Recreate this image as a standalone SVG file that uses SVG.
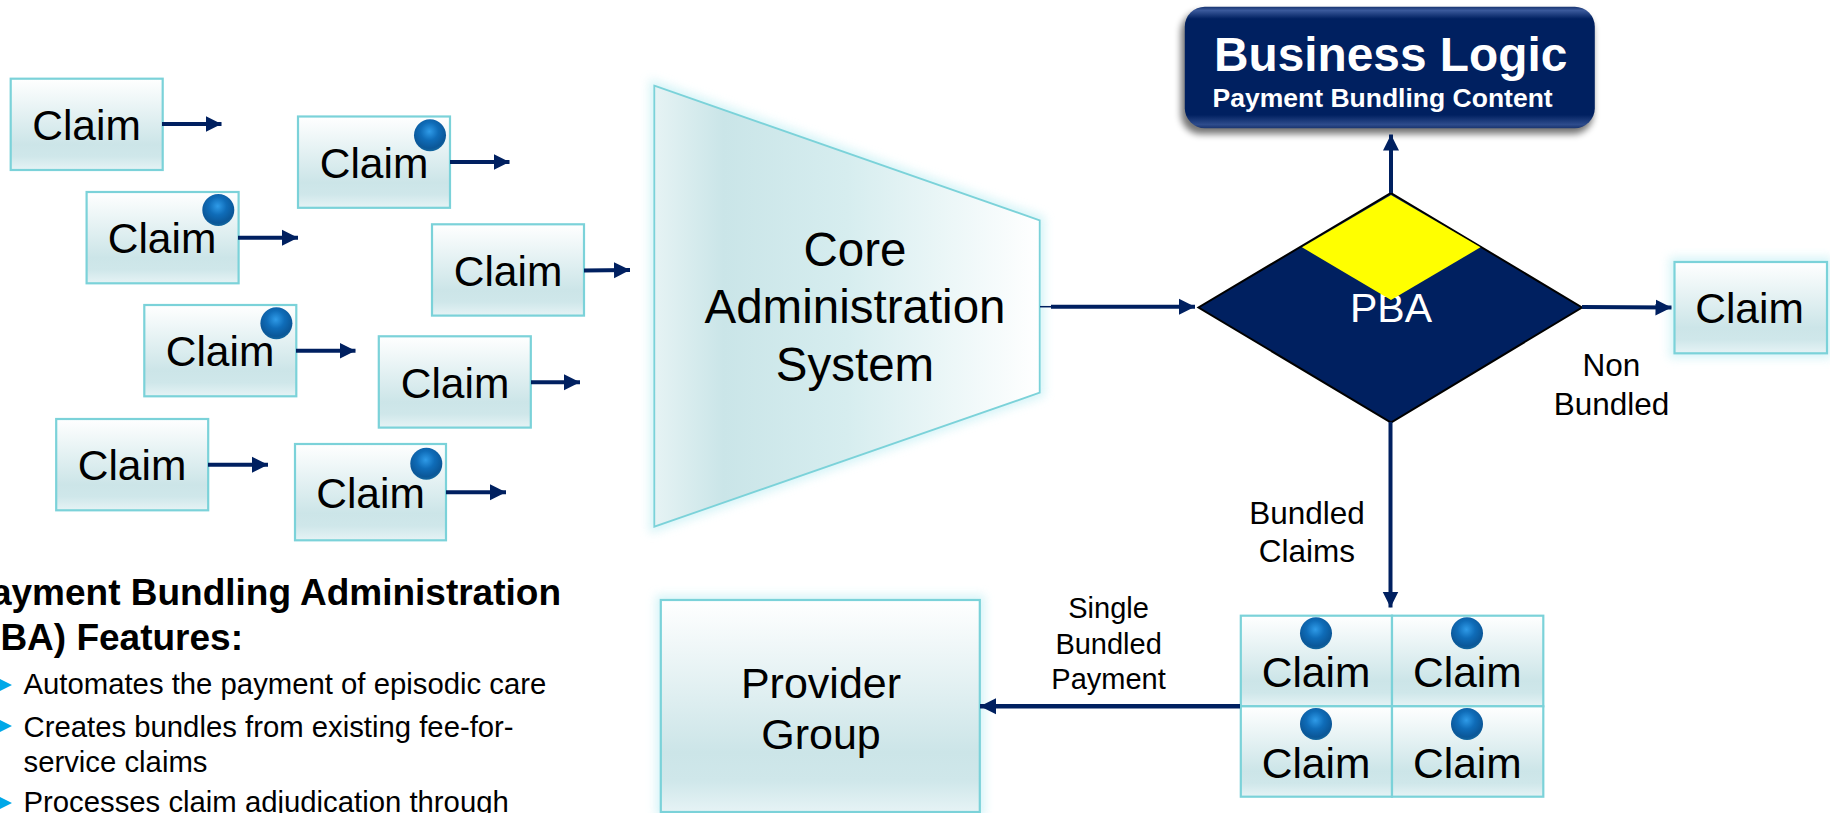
<svg xmlns="http://www.w3.org/2000/svg" width="1830" height="813" viewBox="0 0 1830 813">
<style>
text{font-family:"Liberation Sans",Arial,sans-serif;fill:#000}
.m{text-anchor:middle}
.box{fill:url(#boxG);stroke:#7bd2d9;stroke-width:2.2}
.cl{font-size:42.5px;text-anchor:middle}
.lb{font-size:31.5px;text-anchor:middle}
.lb2{font-size:29px;text-anchor:middle}
.ft{font-size:29.3px}
.hd{font-size:37px;font-weight:700;text-anchor:end}
.con{stroke:#002060;stroke-width:4;fill:none;marker-end:url(#ah)}
.glow{fill:#c9f1f5;stroke:#c9f1f5;stroke-width:10;filter:url(#bl);opacity:.75}
</style>
<defs>
<linearGradient id="boxG" x1="0" y1="0" x2="0" y2="1">
<stop offset="0" stop-color="#ffffff"/><stop offset=".72" stop-color="#cce5e8"/><stop offset=".85" stop-color="#cfe7ea"/><stop offset="1" stop-color="#e6f3f5"/>
</linearGradient>
<linearGradient id="trapG" x1="0" y1="0" x2="1" y2="0">
<stop offset="0" stop-color="#e6f3f4"/><stop offset=".18" stop-color="#cae5e8"/><stop offset=".5" stop-color="#d6edef"/><stop offset="1" stop-color="#ffffff"/>
</linearGradient>
<radialGradient id="ballG" cx=".48" cy=".38" r=".62">
<stop offset="0" stop-color="#2f9be8"/><stop offset=".45" stop-color="#0f6cb8"/><stop offset=".85" stop-color="#0b5798"/><stop offset="1" stop-color="#13689f"/>
</radialGradient>
<linearGradient id="blG" x1="0" y1="0" x2="0" y2="1">
<stop offset="0" stop-color="#16336f"/><stop offset=".03" stop-color="#3b5a9c"/><stop offset=".1" stop-color="#002060"/><stop offset=".89" stop-color="#002060"/><stop offset=".97" stop-color="#2e4c8c"/><stop offset="1" stop-color="#1a3570"/>
</linearGradient>
<filter id="bl" x="-20%" y="-20%" width="140%" height="140%"><feGaussianBlur stdDeviation="5"/></filter>
<filter id="sh" x="-10%" y="-20%" width="120%" height="150%"><feGaussianBlur stdDeviation="3.500"/></filter>
<marker id="ah" markerUnits="userSpaceOnUse" markerWidth="17" markerHeight="18" refX="16" refY="9" orient="auto"><path d="M0 1 L16 9 L0 17Z" fill="#002060"/></marker>
<circle id="ball" r="16" fill="url(#ballG)"/>
<g id="chip"><rect width="152" height="91.3" class="box"/></g>
</defs>
<g id="claim1"><use href="#chip" x="10.700" y="78.700"/><text class="cl" x="86.500" y="139.500">Claim</text></g>
<g id="claim2"><use href="#chip" x="298" y="116.500"/><use href="#ball" x="430" y="135.300"/><text class="cl" x="374" y="177.500">Claim</text></g>
<g id="claim3"><use href="#chip" x="86.600" y="192"/><use href="#ball" x="218.300" y="210"/><text class="cl" x="162" y="253">Claim</text></g>
<g id="claim4"><use href="#chip" x="432" y="224.300"/><text class="cl" x="508" y="285.500">Claim</text></g>
<g id="claim5"><use href="#chip" x="144.300" y="305"/><use href="#ball" x="276.400" y="323.300"/><text class="cl" x="220" y="366">Claim</text></g>
<g id="claim6"><use href="#chip" x="378.800" y="336.300"/><text class="cl" x="455" y="397.500">Claim</text></g>
<g id="claim7"><use href="#chip" x="56.200" y="419"/><text class="cl" x="132" y="480">Claim</text></g>
<g id="claim8"><rect x="295" y="444" width="151" height="96.300" class="box"/><use href="#ball" x="426.300" y="463.700"/><text class="cl" x="370.500" y="508">Claim</text></g>
<g id="features">
<text class="hd" x="561" y="605">Payment Bundling Administration</text>
<text class="hd" x="243" y="650">(PBA) Features:</text>
<path d="M-2 678L12 685L-2 692Z M-2 719L12 726L-2 733Z M-2 796L12 803L-2 810Z" fill="#00a8e8"/>
<text class="ft" x="23.500" y="694.300">Automates the payment of episodic care</text>
<text class="ft" x="23.500" y="736.700">Creates bundles from existing fee-for-</text>
<text class="ft" x="23.500" y="771.700">service claims</text>
<text class="ft" x="23.500" y="811.700">Processes claim adjudication through</text>
</g>
<g id="core-admin">
<path class="glow" d="M654.300 85.700L1039.700 220.300V392.700L654.300 526.700Z"/>
<path d="M654.300 85.700L1039.700 220.300V392.700L654.300 526.700Z" fill="url(#trapG)" stroke="#7bd2d9" stroke-width="1.800"/>
<text class="m" font-size="47.500" x="855" y="266">Core</text>
<text class="m" font-size="47.500" x="855" y="323">Administration</text>
<text class="m" font-size="47.500" x="855" y="381">System</text>
</g>
<g id="business-logic">
<rect x="1181" y="12" width="412" height="122" rx="20" fill="#000" opacity=".55" filter="url(#sh)"/>
<rect x="1184.800" y="6.700" width="410" height="121.500" rx="20" fill="url(#blG)"/>
<text x="1214" y="70.700" font-size="47.800" font-weight="700" style="fill:#fff">Business Logic</text>
<text x="1212.600" y="107" font-size="26.500" font-weight="700" style="fill:#fff">Payment Bundling Content</text>
</g>
<g id="pba">
<path d="M1391 193L1582 307.500L1391 422.500L1198.500 307.500Z" fill="#002060" stroke="#000" stroke-width="2"/>
<text class="m" font-size="41" x="1391" y="321.700" style="fill:#fff">PBA</text>
<path d="M1391 195L1480.500 247.300L1391 300L1302 247.300Z" fill="#ffff00"/>
</g>
<g id="claim-nb">
<rect class="glow" x="1674.500" y="262" width="152.500" height="91.300"/>
<rect class="box" x="1674.500" y="262" width="152.500" height="91.300"/>
<text class="cl" x="1749.500" y="323">Claim</text>
</g>
<g id="labels">
<text class="lb" x="1611.500" y="376">Non</text>
<text class="lb" x="1611.500" y="415">Bundled</text>
<text class="lb" x="1307" y="524">Bundled</text>
<text class="lb" x="1307" y="562">Claims</text>
<text class="lb2" x="1108.600" y="618">Single</text>
<text class="lb2" x="1108.600" y="654">Bundled</text>
<text class="lb2" x="1108.600" y="689">Payment</text>
</g>
<g id="provider">
<rect class="glow" x="660.800" y="600" width="319" height="212"/>
<rect class="box" x="660.800" y="600" width="319" height="212"/>
<text class="m" font-size="43" x="821" y="698">Provider</text>
<text class="m" font-size="43" x="821" y="749">Group</text>
</g>
<g id="bundle">
<rect class="box" x="1240.800" y="615.700" width="151.200" height="90.600"/>
<rect class="box" x="1392" y="615.700" width="151.300" height="90.600"/>
<rect class="box" x="1240.800" y="706.300" width="151.200" height="90.400"/>
<rect class="box" x="1392" y="706.300" width="151.300" height="90.400"/>
<use href="#ball" x="1316" y="633.300"/><use href="#ball" x="1467" y="633.300"/>
<use href="#ball" x="1316" y="724"/><use href="#ball" x="1467" y="724"/>
<text class="cl" x="1316" y="687">Claim</text><text class="cl" x="1467.400" y="687">Claim</text>
<text class="cl" x="1316" y="777.500">Claim</text><text class="cl" x="1467.400" y="777.500">Claim</text>
</g>
<g id="connectors">
<path class="con" d="M162 124H221.500"/>
<path class="con" d="M450 162H509.500"/>
<path class="con" d="M238 237.700H298"/>
<path class="con" d="M584 270.500L630 270"/>
<path class="con" d="M296 350.700H355.500"/>
<path class="con" d="M531 382.300H580"/>
<path class="con" d="M208 464.700H268"/>
<path class="con" d="M446 492.300H506"/>
<path class="con" d="M1051 306.700H1195"/>
<path d="M1040 306.700H1051" stroke="#002060" stroke-width="1.500" fill="none"/>
<path class="con" d="M1582 307L1671.500 307.500"/>
<path class="con" d="M1391 193V134.500"/>
<path class="con" d="M1390.500 422V607.500"/>
<path class="con" d="M1240 706.300H980" style="stroke-width:4.500"/>
</g>
</svg>
